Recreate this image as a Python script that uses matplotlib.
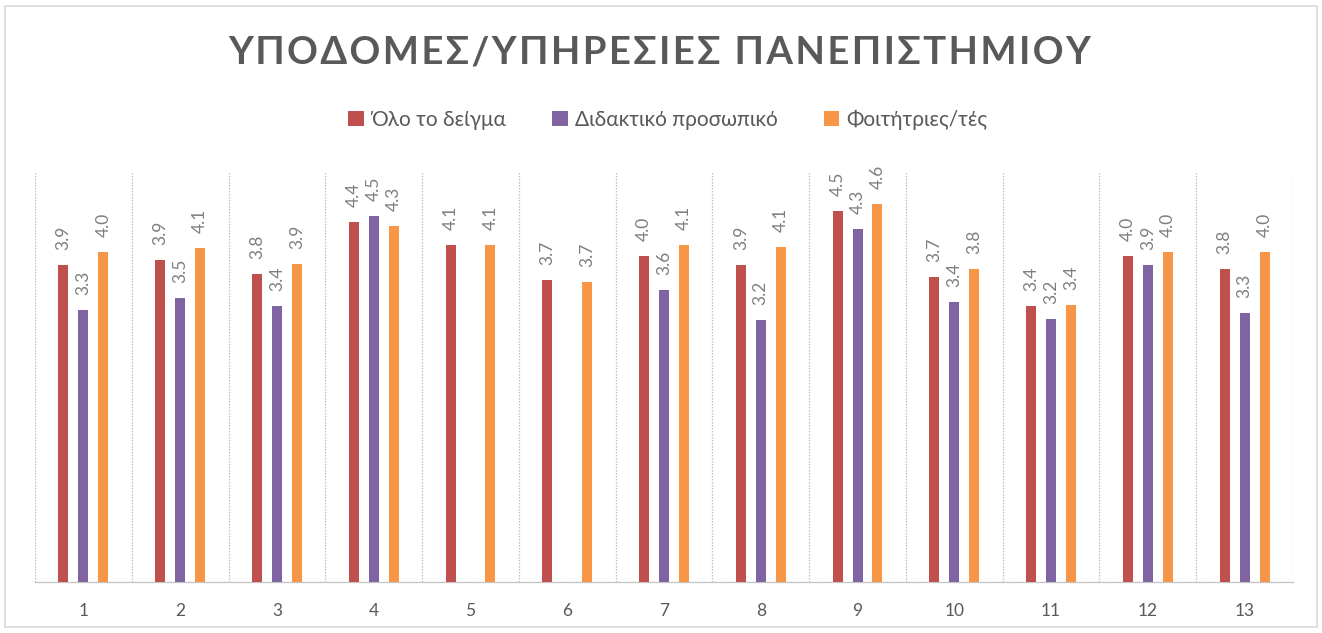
import numpy as np
import matplotlib
matplotlib.use("Agg")
import matplotlib.pyplot as plt
from matplotlib.patches import Rectangle

plt.rcParams['font.family'] = ['Lato', 'DejaVu Sans']

## data
categories = [str(i) for i in range(1, 14)]
series_names = ["Όλο το δείγμα", "Διδακτικό προσωπικό", "Φοιτήτριες/τές"]
all_sample = [3.86, 3.93, 3.76, 4.39, 4.11, 3.68, 3.97, 3.87, 4.53, 3.72, 3.36, 3.97, 3.82]
teaching_staff = [3.31, 3.46, 3.37, 4.46, np.nan, np.nan, 3.56, 3.19, 4.31, 3.41, 3.21, 3.87, 3.28]
students = [4.02, 4.07, 3.88, 4.34, 4.11, 3.66, 4.11, 4.09, 4.61, 3.82, 3.38, 4.02, 4.02]
title = "ΥΠΟΔΟΜΕΣ/ΥΠΗΡΕΣΙΕΣ ΠΑΝΕΠΙΣΤΗΜΙΟΥ"

colors = ["#C0504D", "#8064A2", "#F79646"]

fig = plt.figure(figsize=(13.22, 6.33), dpi=100)
ax = fig.add_axes([35/1322, 1-581.7/633, (1293-35)/1322, (581.7-172)/633])

x = np.arange(1, len(categories)+1)
width = 0.103
offsets = [-0.206, 0, 0.206]
for vals, off, col, name in zip([all_sample, teaching_staff, students], offsets, colors, series_names):
    vals = np.array(vals, dtype=float)
    ax.bar(x + off, vals, width, color=col, label=name, zorder=3)
    for xi, v in zip(x + off, vals):
        if np.isnan(v):
            continue
        ax.annotate(f"{v:.1f}", (xi, v), xytext=(0, 15), textcoords='offset pixels',
                    rotation=90, ha='center', va='bottom', fontsize=12.5, color='#7f7f7f')

ax.set_xlim(0.5, len(categories)+0.5)
ax.set_ylim(0, 5)
ax.set_yticks([])
ax.set_xticks(x)
ax.set_xticklabels(categories, fontsize=12.5, color='#595959')
ax.tick_params(axis='x', length=0, pad=15)
for b in np.arange(0.5, len(categories)+1, 1):
    ax.axvline(b, color='#bfbfbf', linestyle=(0, (1.2, 1.2)), linewidth=0.9, zorder=1)
for s in ['top', 'right', 'left']:
    ax.spines[s].set_visible(False)
ax.spines['bottom'].set_color('#bfbfbf')
ax.spines['bottom'].set_linestyle((0, (1.2, 1.2)))
ax.spines['bottom'].set_linewidth(0.9)

## letter spaced title: hair spaces between characters
spaced = '\u200a'.join(title)
fig.text(660/1322, 1-53/633, spaced, ha='center', va='center',
         fontsize=27.5, fontweight='bold', color='#595959')

fig.legend(loc='center', bbox_to_anchor=(668/1322, 1-120/633), ncol=3, frameon=False,
           handlelength=0.75, handleheight=0.75, handletextpad=0.35, columnspacing=2.2,
           prop={'size': 15}, labelcolor='#595959')

fig.add_artist(Rectangle((5/1322, 1-627/633), 1312/1322, 621/633, transform=fig.transFigure,
                         fill=False, edgecolor='#d9d9d9', linewidth=1.2))

fig.savefig("out.png", dpi=100)
